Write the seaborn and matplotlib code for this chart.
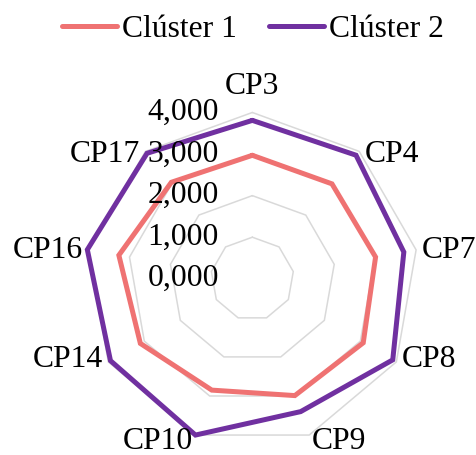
import numpy as np
import pandas as pd
import matplotlib
matplotlib.use("Agg")
import matplotlib.pyplot as plt
import seaborn as sns
from matplotlib.lines import Line2D

categories = ["CP3", "CP4", "CP7", "CP8", "CP9", "CP10", "CP14", "CP16", "CP17"]
cluster1 = [2.97, 2.98, 3.01, 3.08, 2.99, 2.85, 3.11, 3.26, 3.03]
cluster2 = [3.81, 3.88, 3.70, 3.90, 3.40, 4.00, 3.94, 4.03, 3.94]
series_names = ["Clúster 1", "Clúster 2"]
radial_ticks = [0, 1, 2, 3, 4]
radial_labels = ["0,000", "1,000", "2,000", "3,000", "4,000"]
colors = ["#EF7272", "#7030A0"]

sns.set_style("white")
plt.rcParams["font.family"] = ["Liberation Serif", "DejaVu Serif"]
plt.rcParams["text.color"] = "black"
FS = 22.8

n = len(categories)
angles = np.linspace(0, 2 * np.pi, n, endpoint=False)
closed = np.append(angles, 2 * np.pi)

rows = []
for name, vals in zip(series_names, [cluster1, cluster2]):
    for t, v in zip(closed, list(vals) + [vals[0]]):
        rows.append({"theta": t, "value": v, "serie": name})
df = pd.DataFrame(rows)

fig = plt.figure(figsize=(4.77, 4.55), dpi=100)
ax = fig.add_axes([0.180, 0.0218, 0.698, 0.731], polar=True)
ax.set_theta_zero_location("N")
ax.set_theta_direction(-1)

# polygon grid
for r in radial_ticks[1:]:
    ax.plot(closed, [r] * len(closed), color="#D9D9D9", lw=1.1, zorder=0, clip_on=False)

sns.lineplot(data=df, x="theta", y="value", hue="serie", sort=False, estimator=None,
             palette=colors, linewidth=3.6, ax=ax, legend=False)
for ln in ax.lines:
    ln.set_clip_on(False)
    ln.set_solid_joinstyle("miter")

ax.set_ylim(0, 4)
ax.set_xticks([])
ax.set_yticks([])
ax.grid(False)
ax.spines["polar"].set_visible(False)
ax.set_xlabel("")
ax.set_ylabel("")

# radial tick labels
for r, lab in zip(radial_ticks, radial_labels):
    ax.annotate(lab, xy=(0, r), xytext=(-24, 0), textcoords="offset points",
                ha="right", va="center", fontsize=FS, color="black", annotation_clip=False)

# category labels
for t, lab in zip(angles, categories):
    s, c = np.sin(t), np.cos(t)
    if abs(s) < 0.1:
        ha = "center"
    elif s > 0:
        ha = "left"
    else:
        ha = "right"
    if c > 0.9:
        va = "bottom"; off = (0, 8)
    elif c < -0.9:
        va = "center"; off = (2 * np.sign(s), -4.5)
    else:
        va = "center"; off = (4 * np.sign(s), -3 * c)
    ax.annotate(lab, xy=(t, 4), xytext=off, textcoords="offset points",
                ha=ha, va=va, fontsize=FS, color="black", annotation_clip=False)

handles = [Line2D([], [], color=col, lw=3.6, solid_capstyle="round") for col in colors]
leg = fig.legend(handles, series_names, loc="upper center", bbox_to_anchor=(0.53, 1.03), ncol=2,
                 frameon=False, fontsize=FS, handlelength=1.75, handletextpad=0.15,
                 columnspacing=1.0)
for txt in leg.get_texts():
    txt.set_color("black")

fig.savefig("out.png", dpi=100, facecolor="white")
